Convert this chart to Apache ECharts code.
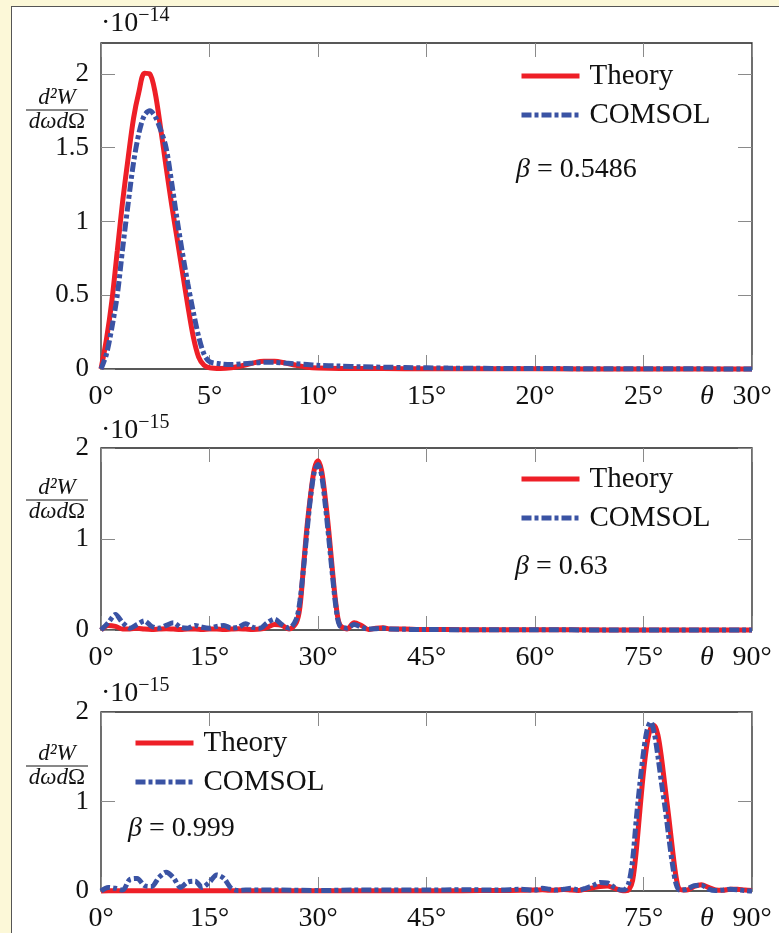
<!DOCTYPE html>
<html>
<head>
<meta charset="utf-8">
<script src="https://cdn.jsdelivr.net/npm/echarts@6/dist/echarts.min.js"></script>
<style>
  html, body { margin: 0; padding: 0; background: #fcf8d8; overflow: hidden; }
  .panel { position: absolute; left: 11px; top: 6px; width: 800px; height: 960px; background: #fff; border: 1.5px solid #555; }
  #chart { position: absolute; left: 0; top: 0; width: 779px; height: 933px; }
</style>
</head>
<body>
<div class="panel"></div>
<div id="chart"></div>
<script>
// 数据 (y in units of 1e-14 for plot 1, 1e-15 for plots 2 and 3)
const legendNames = ['Theory', 'COMSOL']

const theta1 = [0,0.25,0.5,0.75,1,1.25,1.5,1.75,2,2.25,2.5,2.75,3,3.25,3.5,3.75,4,4.25,4.5,4.75,5,5.5,6,6.5,7,7.5,8,8.5,9,9.5,10,11,12,14,16,20,25,30]
const theory1 = [0,0.2,0.46,0.8,1.14,1.43,1.7,1.88,2.005,2.0,1.87,1.63,1.37,1.12,0.89,0.66,0.43,0.22,0.08,0.025,0.008,0.003,0.008,0.022,0.04,0.052,0.052,0.04,0.025,0.012,0.006,0.003,0.003,0.002,0.001,0.001,0,0]
const comsol1 = [0,0.1,0.28,0.5,0.82,1.12,1.4,1.6,1.72,1.75,1.71,1.62,1.5,1.27,1.02,0.79,0.58,0.39,0.22,0.1,0.05,0.035,0.03,0.035,0.04,0.045,0.045,0.04,0.035,0.03,0.025,0.02,0.015,0.01,0.006,0.003,0.002,0]

const theta2 = [0,1,2,3,4,5,6,7,8,9,10,11,12,13,14,15,16,17,18,19,20,21,22,23,24,25,26,27,27.5,28,28.5,29,29.5,30,30.5,31,31.5,32,32.5,33,34,35,36,37,38,39,40,42,44,46,50,55,60,70,80,90]
const theory2 = [0,0.05,0.04,0.01,0.01,0.02,0.01,0.005,0.01,0.015,0.01,0.005,0.01,0.01,0.005,0.01,0.01,0.005,0.01,0.015,0.01,0.005,0.01,0.03,0.06,0.05,0.01,0.08,0.25,0.7,1.15,1.5,1.77,1.86,1.75,1.45,1.08,0.65,0.27,0.06,0.01,0.08,0.05,0.005,0.02,0.025,0.01,0.01,0.005,0.005,0.003,0.002,0.002,0.001,0.001,0]
const comsol2 = [0,0.08,0.17,0.08,0.02,0.06,0.1,0.04,0.02,0.05,0.08,0.03,0.02,0.05,0.03,0.02,0.04,0.05,0.02,0.03,0.07,0.03,0.02,0.08,0.12,0.06,0.02,0.12,0.32,0.68,1.1,1.48,1.74,1.82,1.7,1.38,1.0,0.6,0.24,0.05,0.02,0.06,0.03,0.01,0.015,0.02,0.01,0.008,0.005,0.005,0.003,0.002,0.002,0.001,0.001,0]

const theta3 = [0,1,2,3,4,5,6,7,8,9,10,11,12,13,14,15,16,17,18,19,20,25,30,35,40,45,50,55,58,60,61,62,63,64,65,66,67,68,69,70,71,72,72.5,73,73.5,74,74.5,75,75.5,76,76.5,77,77.5,78,78.5,79,79.5,80,81,82,83,84,85,86,87,88,89,90]
const theory3 = [0,0.003,0.003,0.002,0.002,0.002,0.002,0.002,0.002,0.002,0.002,0.002,0.002,0.002,0.002,0.002,0.002,0.002,0.002,0.002,0.002,
  0.002,0.002,0.002,0.003,0.003,0.004,0.005,0.008,
  0.01,0.015,0.008,0.01,0.018,0.01,0.006,0.02,0.035,0.05,0.055,0.03,0.005,
  0.002,0.015,0.12,0.45,0.9,1.33,1.65,1.82,1.85,1.74,1.48,1.15,0.82,0.47,0.16,0.02,
  0.01,0.05,0.07,0.04,0.01,0.008,0.02,0.02,0.01,0.005]
const comsol3 = [0,0.04,0.03,0.01,0.13,0.14,0.06,0.05,0.15,0.21,0.15,0.04,0.1,0.11,0.04,0.1,0.18,0.14,0.03,0.005,0.01,
  0.01,0.005,0.01,0.01,0.01,0.015,0.01,0.02,
  0.01,0.03,0.02,0.01,0.02,0.03,0.01,0.03,0.06,0.095,0.09,0.04,0.01,
  0.02,0.1,0.35,0.8,1.2,1.55,1.8,1.89,1.76,1.5,1.2,0.92,0.6,0.3,0.08,0.01,
  0.02,0.06,0.065,0.02,0.005,0.01,0.02,0.015,0.005,0]

const yTicks1 = [0, 0.5, 1, 1.5, 2]
const yTicks23 = [0, 1, 2]
const betaLabels = ['0.5486', '0.63', '0.999']
const exponents = ['−14', '−15', '−15']

// 布局
const serif = "'Liberation Serif', 'DejaVu Serif', serif"
const RED = '#ee1f27'
const BLUE = '#3a53a4'
const panels = [
  { top: 43, height: 326, xMax: 30, xStep: 5, yMax: 2.21, yTicks: yTicks1, theta: theta1, theory: theory1, comsol: comsol1,
    legend: [519, 60], beta: [516, 170], frac: 110, exp: 5.5 },
  { top: 448, height: 182, xMax: 90, xStep: 15, yMax: 2, yTicks: yTicks23, theta: theta2, theory: theory2, comsol: comsol2,
    legend: [519, 463], beta: [515, 567], frac: 500, exp: 413 },
  { top: 712, height: 181, xMax: 90, xStep: 15, yMax: 2, yTicks: yTicks23, theta: theta3, theory: theory3, comsol: comsol3,
    legend: [133, 727], beta: [128, 829], frac: 766, exp: 675.5 }
]

const chart = echarts.init(document.getElementById('chart'))

const grid = [], xAxis = [], yAxis = [], series = [], legend = [], graphic = []
const tickStyle = { color: '#8a8a8a', width: 1 }
const noLine = { show: false, onZero: false }

panels.forEach((p, i) => {
  grid.push({ left: 101, top: p.top, width: 651, height: p.height, show: true,
    borderColor: '#222', borderWidth: 1.3, backgroundColor: '#fff' })
  // 下 / 上 x轴
  xAxis.push({ type: 'value', gridIndex: i, min: 0, max: p.xMax, interval: p.xStep, position: 'bottom',
    axisLine: noLine, splitLine: { show: false },
    axisTick: { inside: true, length: 14, lineStyle: tickStyle },
    axisLabel: { margin: 14, color: '#111', fontSize: 28, fontFamily: serif, formatter: '{value}°' },
    name: 'θ', nameLocation: 'end', nameGap: -52,
    nameTextStyle: { fontStyle: 'italic', fontSize: 28, fontFamily: serif, color: '#111', verticalAlign: 'top', padding: [14, 0, 0, 0] } })
  xAxis.push({ type: 'value', gridIndex: i, min: 0, max: p.xMax, interval: p.xStep, position: 'top',
    axisLine: noLine, splitLine: { show: false },
    axisTick: { inside: true, length: 14, lineStyle: tickStyle }, axisLabel: { show: false } })
  // 左 / 右 y轴
  yAxis.push({ type: 'value', gridIndex: i, min: 0, max: p.yMax, position: 'left',
    axisLine: noLine, splitLine: { show: false },
    axisTick: { inside: true, length: 14, lineStyle: tickStyle, customValues: p.yTicks },
    axisLabel: { margin: 12, color: '#111', fontSize: 27, fontFamily: serif, customValues: p.yTicks } })
  yAxis.push({ type: 'value', gridIndex: i, min: 0, max: p.yMax, position: 'right',
    axisLine: noLine, splitLine: { show: false },
    axisTick: { inside: true, length: 14, lineStyle: tickStyle, customValues: p.yTicks }, axisLabel: { show: false } })

  series.push({ name: 'Theory', type: 'line', xAxisIndex: 2 * i, yAxisIndex: 2 * i, symbol: 'none',
    smooth: 0.3, clip: false, lineStyle: { color: RED, width: 5 }, itemStyle: { color: RED },
    data: p.theta.map((t, k) => [t, p.theory[k]]) })
  series.push({ name: 'COMSOL', type: 'line', xAxisIndex: 2 * i, yAxisIndex: 2 * i, symbol: 'none',
    smooth: 0.3, clip: false, lineStyle: { color: BLUE, width: 5, type: [10, 3, 4, 3] }, itemStyle: { color: BLUE },
    data: p.theta.map((t, k) => [t, p.comsol[k]]) })

  legend.push({ data: legendNames, orient: 'vertical', left: p.legend[0], top: p.legend[1], padding: 0,
    itemWidth: 58, itemHeight: 14, itemGap: 7, selectedMode: false,
    itemStyle: { opacity: 0 }, lineStyle: { width: 5 },
    textStyle: { fontSize: 29, fontFamily: serif, color: '#111', lineHeight: 32, padding: [0, 0, 0, 5] } })

  // β 标注
  graphic.push({ type: 'text', x: p.beta[0], y: p.beta[1],
    style: { text: '{i|β} = ' + betaLabels[i], verticalAlign: 'middle', fontSize: 28, fontFamily: serif, fill: '#111',
      rich: { i: { fontStyle: 'italic', fontSize: 28, fontFamily: serif, fill: '#111' } } } })
  // ·10^-n
  graphic.push({ type: 'text', x: 101, y: p.exp,
    style: { text: '{a|·10}{b|' + exponents[i] + '}', verticalAlign: 'top', fill: '#111',
      rich: { a: { fontSize: 28, fontFamily: serif, lineHeight: 36 },
              b: { fontSize: 20, fontFamily: serif, lineHeight: 16, verticalAlign: 'top' } } } })
  // y轴标题 d²W / dωdΩ
  graphic.push({ type: 'text', x: 57, y: p.frac - 12,
    style: { text: 'd²W', align: 'center', verticalAlign: 'middle', fontStyle: 'italic', fontSize: 23, fontFamily: serif, fill: '#111' } })
  graphic.push({ type: 'line', shape: { x1: 26, y1: p.frac, x2: 88, y2: p.frac }, style: { stroke: '#111', lineWidth: 1 } })
  graphic.push({ type: 'text', x: 57, y: p.frac + 12,
    style: { text: '{i|dωd}{u|Ω}', align: 'center', verticalAlign: 'middle', fill: '#111',
      rich: { i: { fontStyle: 'italic', fontSize: 23, fontFamily: serif }, u: { fontSize: 23, fontFamily: serif } } } })
})

chart.setOption({
  animation: false,
  grid: grid,
  xAxis: xAxis,
  yAxis: yAxis,
  legend: legend,
  series: series,
  graphic: graphic
})
</script>
</body>
</html>
